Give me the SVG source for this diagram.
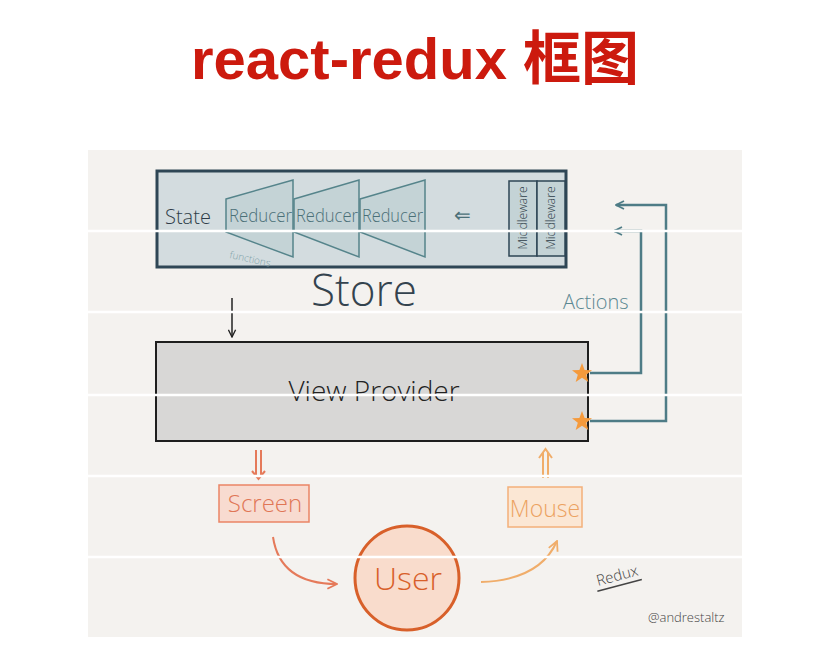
<svg xmlns="http://www.w3.org/2000/svg" width="834" height="669" viewBox="0 0 834 669">
<defs>
<style>
.hand{font-family:"Open Sans","Liberation Sans",sans-serif;font-weight:300}
.teal{stroke:#4e7c86;fill:none;stroke-width:2.5}
.scan{stroke:#ffffff;stroke-width:2.5}
.red-ln{stroke:#e57a5a;fill:none;stroke-width:2}
.or-ln{stroke:#f0ad6a;fill:none;stroke-width:2}
</style>
<marker id="tealHead" viewBox="0 0 10 10" refX="9" refY="5" markerWidth="4" markerHeight="4" orient="auto" markerUnits="strokeWidth">
<path d="M1,1 L9,5 L1,9" fill="none" stroke="#4e7c86" stroke-width="1.8"/>
</marker>
<marker id="redHead" viewBox="0 0 10 10" refX="9" refY="5" markerWidth="6" markerHeight="6" orient="auto" markerUnits="strokeWidth">
<path d="M1,1 L9,5 L1,9" fill="none" stroke="#e57a5a" stroke-width="1.5"/>
</marker>
<marker id="orHead" viewBox="0 0 10 10" refX="9" refY="5" markerWidth="6" markerHeight="6" orient="auto" markerUnits="strokeWidth">
<path d="M1,1 L9,5 L1,9" fill="none" stroke="#f0ad6a" stroke-width="1.5"/>
</marker>
<marker id="blkHead" viewBox="0 0 10 10" refX="9" refY="5" markerWidth="6" markerHeight="6" orient="auto" markerUnits="strokeWidth">
<path d="M1,1 L9,5 L1,9" fill="none" stroke="#222" stroke-width="1.5"/>
</marker>
</defs>
<rect width="834" height="669" fill="#ffffff"/>
<text x="415" y="79" text-anchor="middle" font-family="'Liberation Sans','Noto Sans CJK SC',sans-serif" font-weight="bold" font-size="58" fill="#cc1a0e">react-redux 框图</text>
<rect x="88" y="150" width="654" height="487" fill="#f4f2ef"/>

<g id="store">
<rect x="157" y="171" width="409" height="96" fill="#d3dcdf" stroke="#2e4655" stroke-width="3"/>
<text x="165" y="224" class="hand" font-size="20" fill="#2e3c48">State</text>
<g id="reducers" fill="#c4d3d6" stroke="#55848b" stroke-width="1.5">
<polygon points="226,199 293,180 293,257 226,232"/>
<polygon points="294,199 359,180 359,257 294,232"/>
<polygon points="360,199 425,180 425,257 360,232"/>
</g>
<g class="hand" font-size="18" fill="#4b7078">
<text x="229" y="222" textLength="63" lengthAdjust="spacingAndGlyphs">Reducer</text>
<text x="296" y="222" textLength="62" lengthAdjust="spacingAndGlyphs">Reducer</text>
<text x="362" y="222" textLength="61" lengthAdjust="spacingAndGlyphs">Reducer</text>
</g>
<text x="229" y="258" class="hand" font-size="10" fill="#7fa2a8" transform="rotate(12 229 258)">functions</text>
<text x="462" y="222" text-anchor="middle" class="hand" font-size="20" fill="#4b7078">⇐</text>
<rect x="509" y="181" width="28" height="75" fill="#c4d3d6" stroke="#2e4655" stroke-width="1.5"/>
<rect x="537" y="181" width="28" height="75" fill="#c4d3d6" stroke="#2e4655" stroke-width="1.5"/>
<text x="527" y="218" transform="rotate(-90 527 218)" text-anchor="middle" class="hand" font-size="12" fill="#2e3c48">Middleware</text>
<text x="555" y="218" transform="rotate(-90 555 218)" text-anchor="middle" class="hand" font-size="12" fill="#2e3c48">Middleware</text>
<text x="364" y="306" text-anchor="middle" class="hand" font-size="44" fill="#34434e">Store</text>
</g>

<g id="view-provider">
<rect x="156" y="342" width="432" height="99" fill="#d8d7d6" stroke="#1e1e1e" stroke-width="2"/>
<text x="374" y="401" text-anchor="middle" class="hand" font-size="28" fill="#222">View Provider</text>
</g>

<g id="screen">
<rect x="219" y="485" width="90" height="37" fill="#f8dbd0" stroke="#ea8566" stroke-width="1.5"/>
<text x="265" y="512" text-anchor="middle" class="hand" font-size="24" fill="#e07656">Screen</text>
</g>

<g id="mouse">
<rect x="508" y="487" width="74" height="40" fill="#fbe7d4" stroke="#f3b07a" stroke-width="1.5"/>
<text x="545" y="517" text-anchor="middle" class="hand" font-size="23" fill="#eca261">Mouse</text>
</g>

<g id="user">
<circle cx="407" cy="578" r="52" fill="#f9dccc" stroke="#d8602a" stroke-width="3"/>
<text x="408" y="590" text-anchor="middle" class="hand" font-size="32" fill="#d8602a">User</text>
</g>

<g id="stars" fill="#f59a3c">
<polygon points="582,363 584.6,370 592,370.2 586.2,374.8 588.3,382 582,377.8 575.7,382 577.8,374.8 572,370.2 579.4,370"/>
<polygon points="582,411 584.6,418 592,418.2 586.2,422.8 588.3,430 582,425.8 575.7,430 577.8,422.8 572,418.2 579.4,418"/>
</g>

<g id="labels">
<text x="563" y="309" class="hand" font-size="20" fill="#5b8892">Actions</text>
<g transform="rotate(-15 598 586)">
<text x="598" y="586" class="hand" font-size="15" fill="#444">Redux</text>
<path d="M596,591 L642,591" stroke="#444" stroke-width="1.5"/>
</g>
<text x="648" y="622" class="hand" font-size="13" fill="#444">@andrestaltz</text>
</g>

<g id="connectors">
<path d="M590,373 L641,373 L641,231 L614,231" class="teal" marker-end="url(#tealHead)"/>
<path d="M590,421 L666,421 L666,205 L616,205" class="teal" marker-end="url(#tealHead)"/>
<path d="M232,298 L232,337" stroke="#222" stroke-width="1.5" fill="none" marker-end="url(#blkHead)"/>
<path d="M256,450 L256,476 M261,450 L261,476" class="red-ln"/>
<path d="M252,471 L258.5,479 L265,471" class="red-ln"/>
<path d="M543,478 L543,452 M548,478 L548,452" class="or-ln"/>
<path d="M539,458 L545.5,449 L552,458" class="or-ln"/>
<path d="M273,537 Q280,584 337,584" class="red-ln" marker-end="url(#redHead)"/>
<path d="M481,582 Q540,580 557,541" class="or-ln" marker-end="url(#orHead)"/>
</g>

<g id="scan-lines">
<line x1="88" y1="231" x2="742" y2="231" class="scan"/>
<line x1="88" y1="312" x2="742" y2="312" class="scan"/>
<line x1="88" y1="395" x2="742" y2="395" class="scan"/>
<line x1="88" y1="476" x2="742" y2="476" class="scan"/>
<line x1="88" y1="557" x2="742" y2="557" class="scan"/>
</g>
</svg>
